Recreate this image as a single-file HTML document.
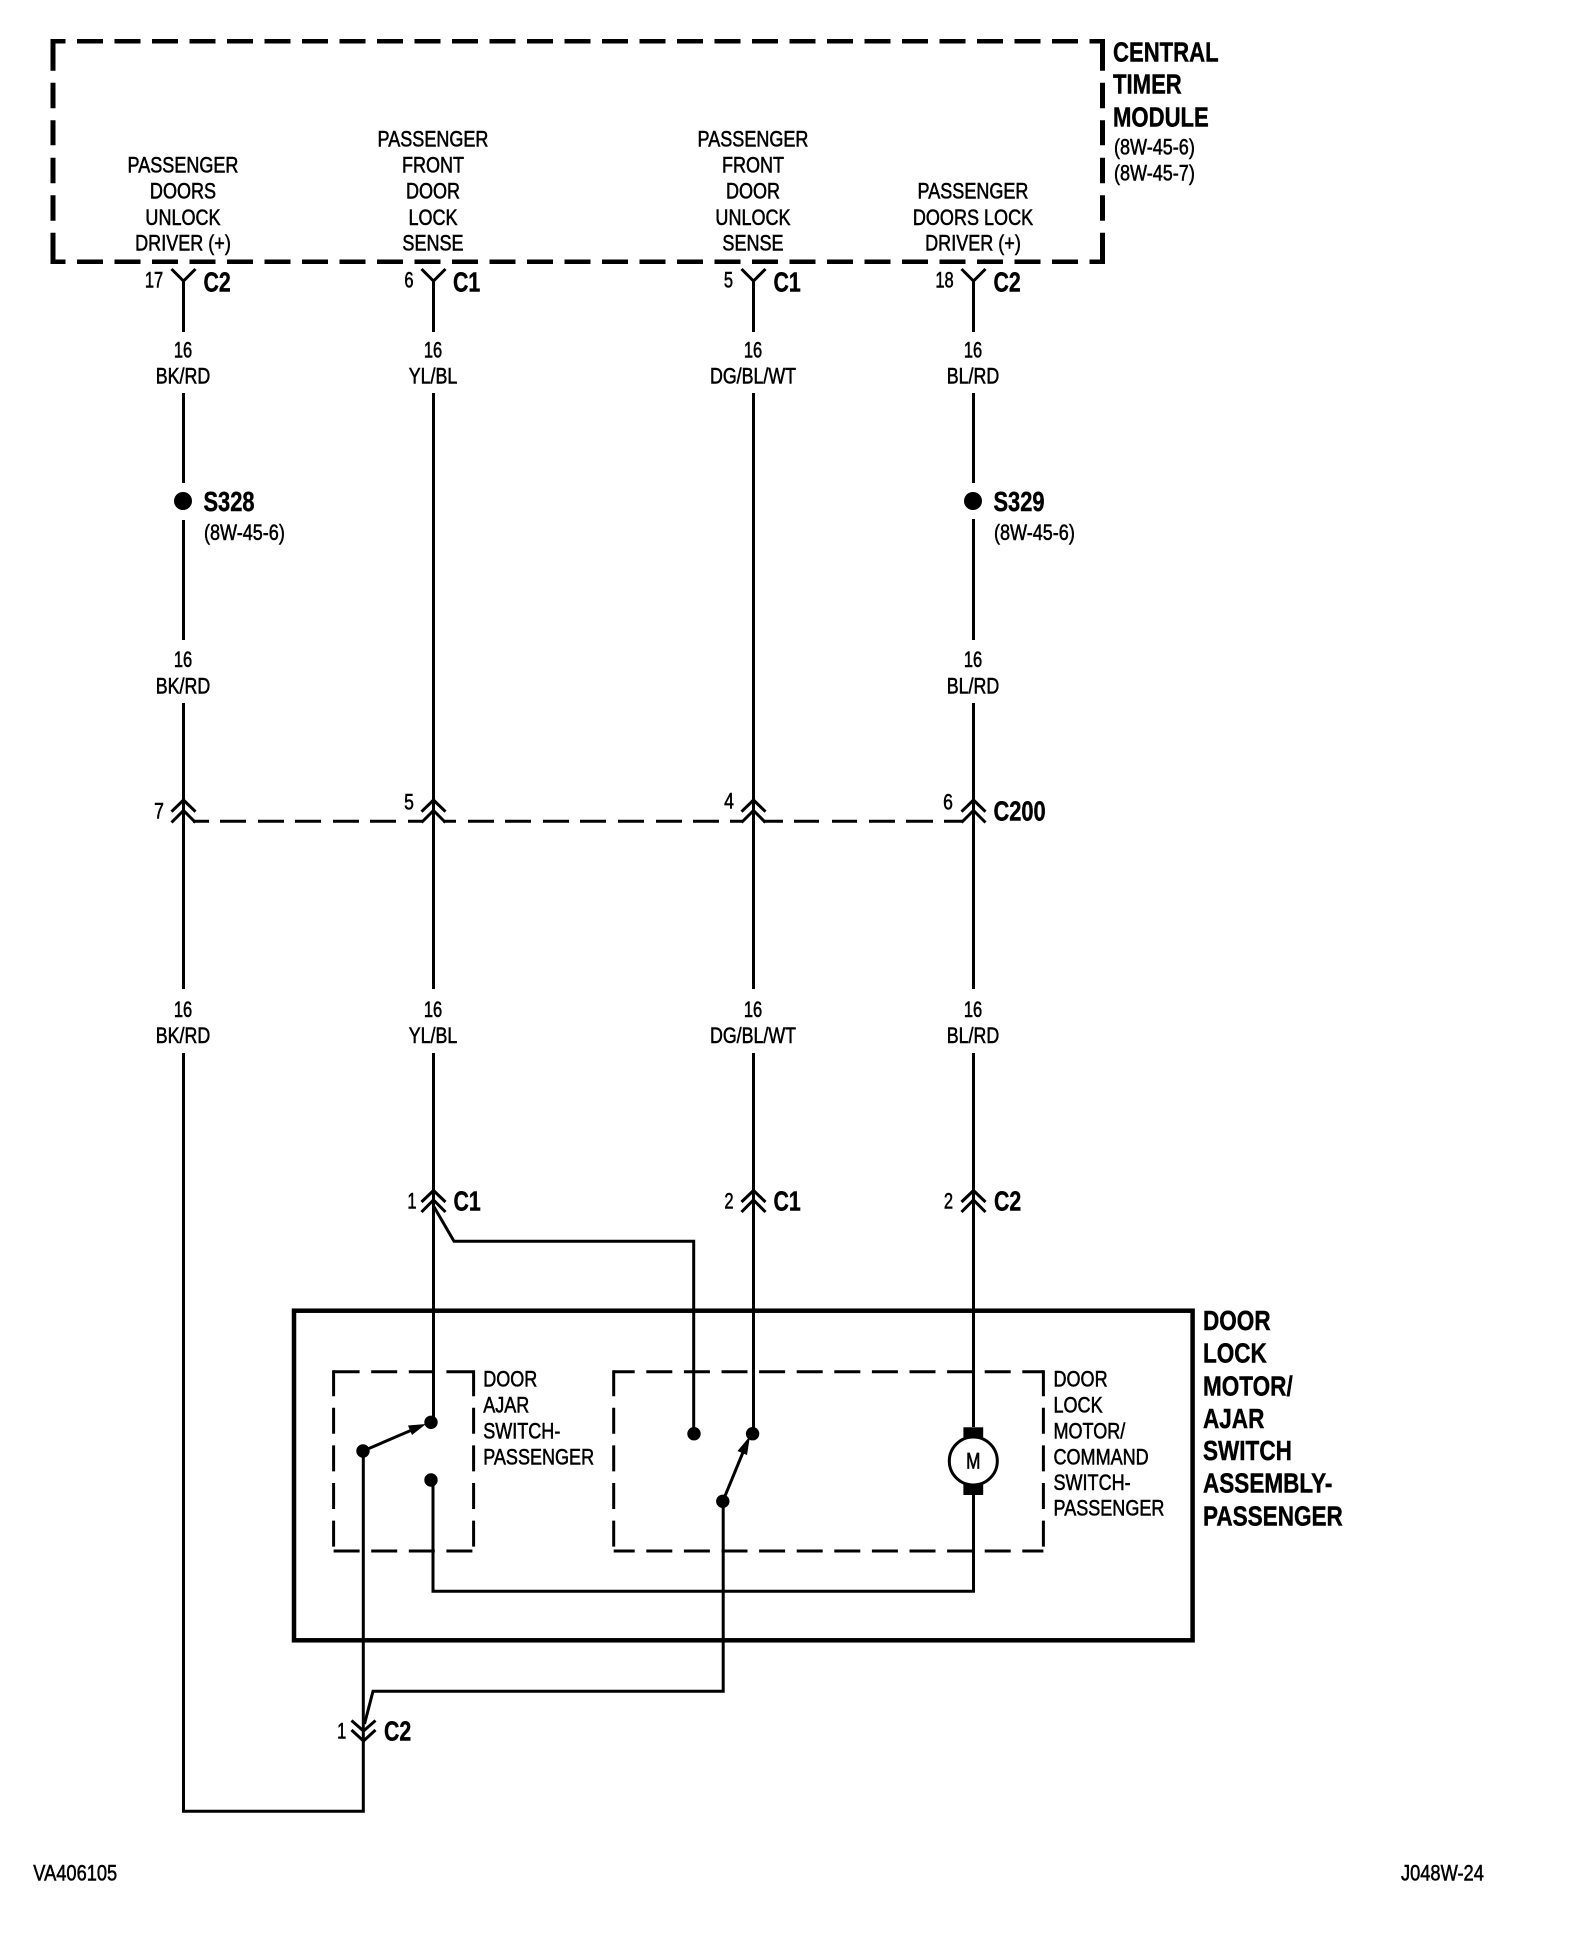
<!DOCTYPE html>
<html>
<head>
<meta charset="utf-8">
<style>
html,body{margin:0;padding:0;background:#fff;}
svg{display:block;}
text{font-family:"Liberation Sans",sans-serif;fill:#000;}
.n{font-size:22px;stroke:#000;stroke-width:.55px;}
.m{text-anchor:middle;}
.b{font-size:28px;font-weight:bold;stroke:#000;stroke-width:.45px;}
.w{fill:none;stroke:#000;stroke-width:3;}
.d{fill:none;stroke:#000;stroke-width:3;stroke-dasharray:26 11.6;}
</style>
</head>
<body>
<svg width="1584" height="1944" viewBox="0 0 1584 1944" xmlns="http://www.w3.org/2000/svg">
<rect width="1584" height="1944" fill="#fff"/>

<!-- Central timer module dashed box -->
<path d="M50.5 41.3H1105" fill="none" stroke="#000" stroke-width="4.5" stroke-dasharray="26 11.5" stroke-dashoffset="11"/>
<path d="M50.5 261.7H1105" fill="none" stroke="#000" stroke-width="4.5" stroke-dasharray="26 11.5" stroke-dashoffset="11"/>
<path d="M53 39.2V264" fill="none" stroke="#000" stroke-width="5" stroke-dasharray="31.5 12 25.5 12 25 12.5 25.5 12 25.5 12 32"/>
<path d="M1102.5 39.2V264" fill="none" stroke="#000" stroke-width="5" stroke-dasharray="31.5 12 25.5 12 25 12.5 25.5 12 25.5 12 32"/>

<!-- module labels -->
<text class="n m" transform="translate(183 172.7) scale(.82 1)">PASSENGER</text>
<text class="n m" transform="translate(183 198.7) scale(.82 1)">DOORS</text>
<text class="n m" transform="translate(183 225) scale(.82 1)">UNLOCK</text>
<text class="n m" transform="translate(183 250.7) scale(.82 1)">DRIVER (+)</text>
<text class="n m" transform="translate(433 146.7) scale(.82 1)">PASSENGER</text>
<text class="n m" transform="translate(433 172.7) scale(.82 1)">FRONT</text>
<text class="n m" transform="translate(433 198.7) scale(.82 1)">DOOR</text>
<text class="n m" transform="translate(433 225) scale(.82 1)">LOCK</text>
<text class="n m" transform="translate(433 250.7) scale(.82 1)">SENSE</text>
<text class="n m" transform="translate(753 146.7) scale(.82 1)">PASSENGER</text>
<text class="n m" transform="translate(753 172.7) scale(.82 1)">FRONT</text>
<text class="n m" transform="translate(753 198.7) scale(.82 1)">DOOR</text>
<text class="n m" transform="translate(753 225) scale(.82 1)">UNLOCK</text>
<text class="n m" transform="translate(753 250.7) scale(.82 1)">SENSE</text>
<text class="n m" transform="translate(973 198.7) scale(.82 1)">PASSENGER</text>
<text class="n m" transform="translate(973 225) scale(.82 1)">DOORS LOCK</text>
<text class="n m" transform="translate(973 250.7) scale(.82 1)">DRIVER (+)</text>

<text class="b" transform="translate(1113 61.5) scale(.79 1)">CENTRAL</text>
<text class="b" transform="translate(1113 93.7) scale(.79 1)">TIMER</text>
<text class="b" transform="translate(1113 126.4) scale(.79 1)">MODULE</text>
<text class="n" transform="translate(1114 154.7) scale(.82 1)">(8W-45-6)</text>
<text class="n" transform="translate(1114 180.7) scale(.82 1)">(8W-45-7)</text>

<!-- Wires -->
<path class="w" d="M183.5 281V332M183.5 393V483M183.5 520V640M183.5 703V989M183.5 1053V1811.3H363.3V1451"/>
<path class="w" d="M433.5 281V332M433.5 393V989M433.5 1053V1422"/>
<path class="w" d="M753.5 281V332M753.5 393V989M753.5 1053V1434"/>
<path class="w" d="M973.5 281V332M973.5 393V483M973.5 519V640M973.5 703V989M973.5 1053V1427M973.5 1495V1591.3H433V1480"/>
<path class="w" d="M433.5 1206L454 1241.3H693.7V1434"/>
<path class="w" d="M723.2 1501V1691.3H373L364.5 1724"/>

<!-- Y connectors -->
<path class="w" d="M171.5 269L183.5 281L195.5 269M421.5 269L433.5 281L445.5 269M741.5 269L753.5 281L765.5 269M961.5 269L973.5 281L985.5 269"/>

<!-- C200 chevrons -->
<path class="w" d="M171.5 811.7L183.5 800L195.5 811.7M171.5 822.5L183.5 810.5L195.5 822.5M421.5 811.7L433.5 800L445.5 811.7M421.5 822.5L433.5 810.5L445.5 822.5M741.5 811.7L753.5 800L765.5 811.7M741.5 822.5L753.5 810.5L765.5 822.5M961.5 811.7L973.5 800L985.5 811.7M961.5 822.5L973.5 810.5L985.5 822.5"/>
<path class="w" d="M193 821.3H209M220 821.3H246M258 821.3H284M295 821.3H321M333 821.3H359M370 821.3H396M408 821.3H423M443 821.3H456M468 821.3H494M505 821.3H531M543 821.3H569M580 821.3H606M618 821.3H644M656 821.3H682M693 821.3H719M730 821.3H743M763 821.3H783M794 821.3H819M832 821.3H857M869 821.3H895M906 821.3H933M944 821.3H963"/>

<!-- Lower chevrons -->
<path class="w" d="M421.5 1202L433.5 1190.5L445.5 1202M421.5 1212L433.5 1200L445.5 1212M741.5 1202L753.5 1190.5L765.5 1202M741.5 1212L753.5 1200L765.5 1212M961.5 1202L973.5 1190.5L985.5 1202M961.5 1212L973.5 1200L985.5 1212"/>
<path class="w" d="M351.5 1720.5L363.5 1731L375.5 1720.5M351.5 1730L363.5 1741L375.5 1730"/>

<!-- splices -->
<circle cx="183" cy="501" r="9"/>
<circle cx="973" cy="501" r="9"/>

<!-- pin numbers -->
<text class="n m" transform="translate(154 287.5) scale(.75 1)">17</text>
<text class="n m" transform="translate(409 287.5) scale(.75 1)">6</text>
<text class="n m" transform="translate(728.5 287.5) scale(.75 1)">5</text>
<text class="n m" transform="translate(944.5 287.5) scale(.75 1)">18</text>
<text class="n m" transform="translate(159 818.3) scale(.8 1)">7</text>
<text class="n m" transform="translate(409 809.3) scale(.8 1)">5</text>
<text class="n m" transform="translate(729 808.5) scale(.8 1)">4</text>
<text class="n m" transform="translate(948 809.3) scale(.8 1)">6</text>
<text class="n m" transform="translate(412 1208.3) scale(.75 1)">1</text>
<text class="n m" transform="translate(729 1208.3) scale(.75 1)">2</text>
<text class="n m" transform="translate(948.5 1208.3) scale(.75 1)">2</text>
<text class="n m" transform="translate(341.7 1738.3) scale(.75 1)">1</text>

<!-- connector names -->
<text class="b" transform="translate(203.5 291.7) scale(.76 1)">C2</text>
<text class="b" transform="translate(453 291.7) scale(.76 1)">C1</text>
<text class="b" transform="translate(773.5 291.7) scale(.76 1)">C1</text>
<text class="b" transform="translate(993.5 291.7) scale(.76 1)">C2</text>
<text class="b" transform="translate(993.5 820.7) scale(.78 1)">C200</text>
<text class="b" transform="translate(453.5 1210.7) scale(.76 1)">C1</text>
<text class="b" transform="translate(773.5 1210.7) scale(.76 1)">C1</text>
<text class="b" transform="translate(994 1210.7) scale(.76 1)">C2</text>
<text class="b" transform="translate(384 1740.7) scale(.76 1)">C2</text>

<text class="b" transform="translate(203.5 511) scale(.78 1)">S328</text>
<text class="n" transform="translate(204 540) scale(.82 1)">(8W-45-6)</text>
<text class="b" transform="translate(993.5 511) scale(.78 1)">S329</text>
<text class="n" transform="translate(994 540) scale(.82 1)">(8W-45-6)</text>

<!-- wire labels row 1 -->
<text class="n m" transform="translate(183 357.3) scale(.75 1)">16</text>
<text class="n m" transform="translate(183 383.3) scale(.81 1)">BK/RD</text>
<text class="n m" transform="translate(433 357.3) scale(.75 1)">16</text>
<text class="n m" transform="translate(433 383.3) scale(.81 1)">YL/BL</text>
<text class="n m" transform="translate(753 357.3) scale(.75 1)">16</text>
<text class="n m" transform="translate(753 383.3) scale(.81 1)">DG/BL/WT</text>
<text class="n m" transform="translate(973 357.3) scale(.75 1)">16</text>
<text class="n m" transform="translate(973 383.3) scale(.81 1)">BL/RD</text>
<!-- row 2 -->
<text class="n m" transform="translate(183 667) scale(.75 1)">16</text>
<text class="n m" transform="translate(183 693.5) scale(.81 1)">BK/RD</text>
<text class="n m" transform="translate(973 667) scale(.75 1)">16</text>
<text class="n m" transform="translate(973 693.5) scale(.81 1)">BL/RD</text>
<!-- row 3 -->
<text class="n m" transform="translate(183 1017) scale(.75 1)">16</text>
<text class="n m" transform="translate(183 1043) scale(.81 1)">BK/RD</text>
<text class="n m" transform="translate(433 1017) scale(.75 1)">16</text>
<text class="n m" transform="translate(433 1043) scale(.81 1)">YL/BL</text>
<text class="n m" transform="translate(753 1017) scale(.75 1)">16</text>
<text class="n m" transform="translate(753 1043) scale(.81 1)">DG/BL/WT</text>
<text class="n m" transform="translate(973 1017) scale(.75 1)">16</text>
<text class="n m" transform="translate(973 1043) scale(.81 1)">BL/RD</text>

<!-- Assembly box -->
<rect x="294" y="1310.7" width="898.6" height="329.6" fill="none" stroke="#000" stroke-width="4.5"/>

<!-- Inner dashed boxes -->
<path class="d" d="M333.6 1371.7H473.6"/>
<path class="d" d="M333.6 1551H473.6"/>
<path class="d" d="M333.6 1370.2V1552.5"/>
<path class="d" d="M473.6 1370.2V1552.5"/>
<path class="d" style="stroke-dashoffset:5" d="M613.7 1371.7H1043.4"/>
<path class="d" style="stroke-dashoffset:5" d="M613.7 1551H1043.4"/>
<path class="d" d="M613.7 1370.2V1552.5"/>
<path class="d" d="M1043.4 1370.2V1552.5"/>

<text class="n" transform="translate(483.2 1386.7) scale(.82 1)">DOOR</text>
<text class="n" transform="translate(483.2 1412.3) scale(.82 1)">AJAR</text>
<text class="n" transform="translate(483.2 1438.3) scale(.82 1)">SWITCH-</text>
<text class="n" transform="translate(483.2 1464.3) scale(.82 1)">PASSENGER</text>

<text class="n" transform="translate(1053.5 1386.7) scale(.82 1)">DOOR</text>
<text class="n" transform="translate(1053.5 1412.3) scale(.82 1)">LOCK</text>
<text class="n" transform="translate(1053.5 1438.3) scale(.82 1)">MOTOR/</text>
<text class="n" transform="translate(1053.5 1464.3) scale(.82 1)">COMMAND</text>
<text class="n" transform="translate(1053.5 1490) scale(.82 1)">SWITCH-</text>
<text class="n" transform="translate(1053.5 1515.7) scale(.82 1)">PASSENGER</text>

<text class="b" transform="translate(1203 1330) scale(.805 1)">DOOR</text>
<text class="b" transform="translate(1203 1362.7) scale(.805 1)">LOCK</text>
<text class="b" transform="translate(1203 1395.3) scale(.805 1)">MOTOR/</text>
<text class="b" transform="translate(1203 1428) scale(.805 1)">AJAR</text>
<text class="b" transform="translate(1203 1460) scale(.805 1)">SWITCH</text>
<text class="b" transform="translate(1203 1492.7) scale(.805 1)">ASSEMBLY-</text>
<text class="b" transform="translate(1203 1525.3) scale(.805 1)">PASSENGER</text>

<!-- Switch contacts -->
<circle cx="431" cy="1422.3" r="6.7"/>
<circle cx="431" cy="1480" r="6.7"/>
<circle cx="363" cy="1451" r="6.7"/>
<circle cx="694" cy="1433.7" r="6.7"/>
<circle cx="752.6" cy="1433.7" r="6.7"/>
<circle cx="722.8" cy="1501.3" r="6.7"/>
<path class="w" d="M363 1451L420 1426.5"/>
<path d="M426 1424L408 1425.5L412 1435Z"/>
<path class="w" d="M722.8 1501.3L746 1445"/>
<path d="M750 1436L737.5 1451L747 1455Z"/>

<!-- Motor -->
<rect x="963.4" y="1427.3" width="19.8" height="12"/>
<rect x="963.4" y="1483" width="19.8" height="12"/>
<circle cx="973.3" cy="1461" r="24" fill="#fff" stroke="#000" stroke-width="3"/>
<text class="n m" transform="translate(973.3 1468.5) scale(.78 1)" style="stroke-width:.7px">M</text>

<!-- Footer -->
<text class="n" transform="translate(33.3 1880.7) scale(.83 1)">VA406105</text>
<text class="n" transform="translate(1401 1880.7) scale(.83 1)">J048W-24</text>
</svg>
</body>
</html>
